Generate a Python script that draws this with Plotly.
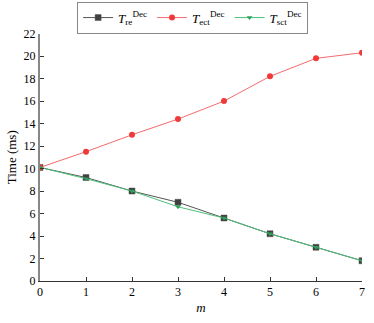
import plotly.graph_objects as go

m_vals = [0, 1, 2, 3, 4, 5, 6, 7]
t_re = [10.1, 9.2, 8.0, 7.0, 5.6, 4.2, 3.0, 1.8]
t_ect = [10.1, 11.5, 13.0, 14.4, 16.0, 18.2, 19.8, 20.3]
t_sct = [10.1, 9.1, 8.0, 6.6, 5.6, 4.2, 3.0, 1.8]
y_ticks = list(range(0, 23, 2))

names = ["<i>T</i><sub>re</sub><sup>Dec</sup>",
         "<i>T</i><sub>ect</sub><sup>Dec</sup>",
         "<i>T</i><sub>sct</sub><sup>Dec</sup>"]

fig = go.Figure()
fig.add_trace(go.Scatter(x=m_vals, y=t_re, mode="lines+markers", name=names[0],
                         line=dict(color="#555555", width=1),
                         marker=dict(symbol="square", size=6, color="#404040",
                                     line=dict(color="#505050", width=0.5))))
fig.add_trace(go.Scatter(x=m_vals, y=t_ect, mode="lines+markers", name=names[1],
                         line=dict(color="#f26b6b", width=1),
                         marker=dict(symbol="circle", size=6, color="#f03a3a")))
fig.add_trace(go.Scatter(x=m_vals, y=t_sct, mode="lines+markers", name=names[2],
                         line=dict(color="#4cc07a", width=1),
                         marker=dict(symbol="triangle-down", size=5, color="#2ca05a")))

fig.update_layout(
    width=374, height=323,
    margin=dict(l=40, r=12, t=29, b=42),
    paper_bgcolor="white", plot_bgcolor="white",
    font=dict(family="Liberation Serif", size=12, color="black"),
    showlegend=True,
    legend=dict(orientation="h", x=0.515, xanchor="center", xref="container",
                y=0.995, yanchor="top", yref="container",
                bordercolor="#888888", borderwidth=1, bgcolor="white",
                font=dict(size=13), itemwidth=30, tracegroupgap=0),
    xaxis=dict(range=[0, 7], tickvals=m_vals, showline=True, linecolor="#333333",
               linewidth=1, ticks="inside", ticklen=4, tickcolor="#333333",
               showgrid=False, zeroline=False, automargin=False,
               title=dict(text="<i>m</i>", font=dict(size=13), standoff=4)),
    yaxis=dict(range=[0, 22], tickvals=y_ticks, showline=True, linecolor="#888888",
               linewidth=2, ticks="inside", ticklen=4, tickcolor="#333333",
               showgrid=False, zeroline=False, automargin=False,
               title=dict(text="Time (ms)", font=dict(size=13), standoff=4)),
)

fig.write_html("out.html", config={"displayModeBar": False},
               post_script="document.body.style.margin='0';")
